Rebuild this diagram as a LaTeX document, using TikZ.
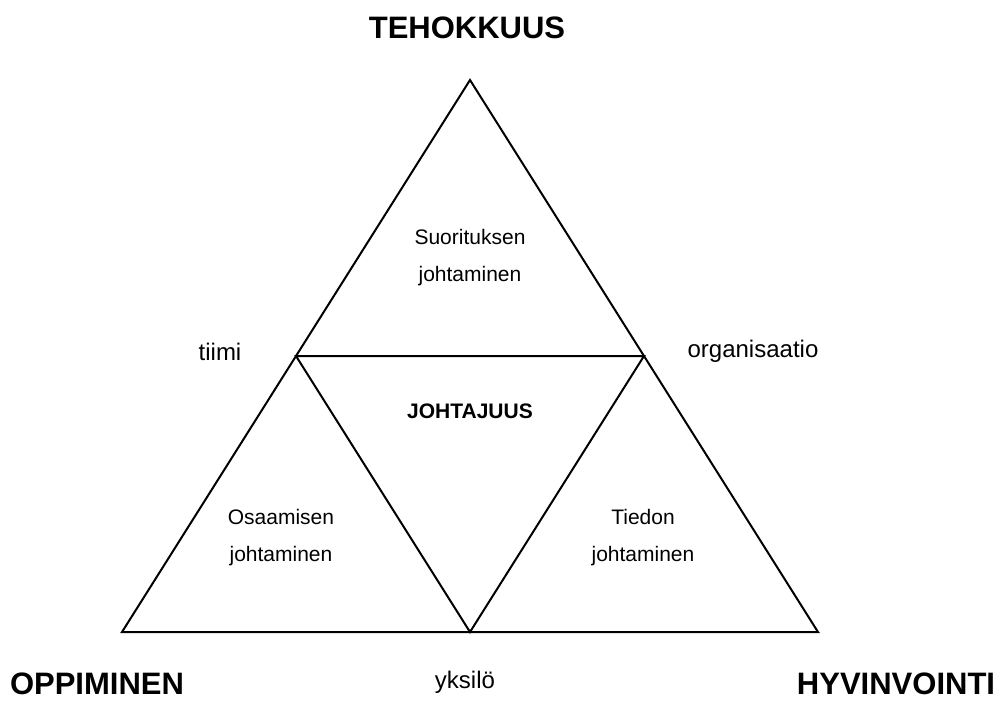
\documentclass[tikz,border=0pt]{standalone}
\usepackage{fontspec}
\setmainfont{Liberation Sans}
\usetikzlibrary{calc}

\begin{document}
\begin{tikzpicture}[x=1pt,y=-1pt,line width=2pt,line join=miter,
  corner/.style={font=\fontsize{31}{37}\selectfont\bfseries,anchor=base,inner sep=0pt},
  side/.style={font=\fontsize{24}{28}\selectfont,anchor=base},
  area/.style={font=\fontsize{21}{37}\selectfont,align=center,inner sep=0pt}]
  \useasboundingbox (0,0) rectangle (1004,702);
  % outer triangle and its side midpoints
  \coordinate (top) at (470,80);
  \coordinate (bl) at (122,632);
  \coordinate (br) at (818,632);
  \coordinate (lm) at ($(top)!0.5!(bl)$);
  \coordinate (rm) at ($(top)!0.5!(br)$);
  \coordinate (bm) at ($(bl)!0.5!(br)$);
  \draw (top) -- (br) -- (bl) -- cycle;
  \draw (lm) -- (rm) -- (bm) -- cycle;
  % corner words
  \node[corner] (teho) at (467,38) {TEHOKKUUS};
  \node[corner] (oppi) at (97,694) {OPPIMINEN};
  \node[corner] (hyvi) at (896,694) {HYVINVOINTI};
  % levels at the midpoints
  \node[side] (tiimi) at (220,360) {tiimi};
  \node[side] (orga) at (753,357) {organisaatio};
  \node[side] (yksi) at (465,688) {yksilö};
  % the four small triangles
  \node[area] (suor) at (470,258) {Suorituksen\\johtaminen};
  \node[area] (osaa) at (281,538) {Osaamisen\\johtaminen};
  \node[area] (tied) at (643,538) {Tiedon\\johtaminen};
  \node[font=\fontsize{21}{25}\selectfont\bfseries,anchor=base] (joht) at (470,418) {JOHTAJUUS};
\end{tikzpicture}
\end{document}
